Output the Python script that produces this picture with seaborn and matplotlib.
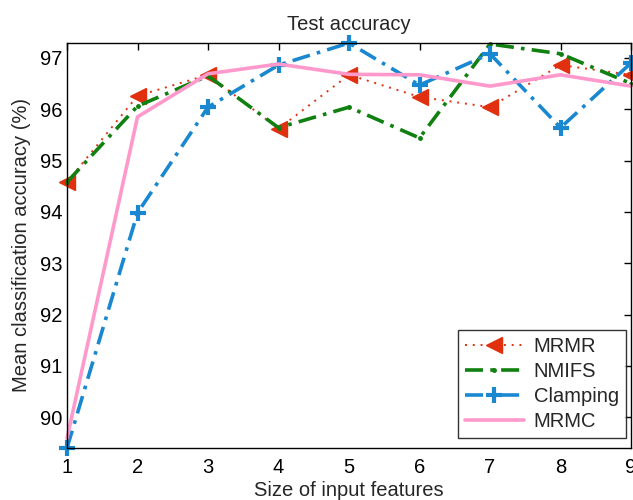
import matplotlib
matplotlib.use("Agg")
import matplotlib.pyplot as plt
import seaborn as sns
import pandas as pd

x_features = [1, 2, 3, 4, 5, 6, 7, 8, 9]
mrmr = [94.58, 96.26, 96.67, 95.62, 96.67, 96.24, 96.04, 96.86, 96.67]
nmifs = [94.58, 96.06, 96.65, 95.64, 96.04, 95.44, 97.27, 97.08, 96.50]
clamping = [89.40, 93.98, 96.04, 96.86, 97.29, 96.47, 97.08, 95.64, 96.90]
mrmc = [89.59, 95.85, 96.69, 96.88, 96.68, 96.67, 96.45, 96.67, 96.45]
series_names = ["MRMR", "NMIFS", "Clamping", "MRMC"]
x_ticks = [1, 2, 3, 4, 5, 6, 7, 8, 9]
y_ticks = [90, 91, 92, 93, 94, 95, 96, 97]

sns.set_style("white")
plt.rcParams['font.family'] = ['Liberation Sans', 'DejaVu Sans']

fig = plt.figure(figsize=(6.33, 5.0), dpi=100)
ax = fig.add_axes([67/633, 1-448/500, (631-67)/633, (448-43)/500])

styles = {
    "MRMR": dict(color="#E03010", linestyle=(0, (1, 3)), linewidth=1.4,
                 marker="<", markersize=11, markeredgewidth=1.0,
                 markeredgecolor="#E03010"),
    "NMIFS": dict(color="#108010", linestyle=(0, (5, 2, 1, 2)), linewidth=2.6,
                  marker=".", markersize=5, markeredgecolor="#108010",
                  markeredgewidth=1.0),
    "Clamping": dict(color="#1A88D0", linestyle=(0, (5, 2, 1, 2)), linewidth=2.6,
                     marker="+", markersize=12, markeredgewidth=3.0,
                     markeredgecolor="#1A88D0"),
    "MRMC": dict(color="#FF99CC", linestyle="-", linewidth=2.6),
}

data_map = {"MRMR": mrmr, "NMIFS": nmifs, "Clamping": clamping, "MRMC": mrmc}
for name in series_names:
    df = pd.DataFrame({"x": x_features, "y": data_map[name]})
    sns.lineplot(data=df, x="x", y="y", ax=ax, label=name, clip_on=False,
                 **styles[name])

ax.set_xlim(1, 9)
ax.set_ylim(89.40, 97.29)
ax.set_xticks(x_ticks)
ax.set_yticks(y_ticks)
ax.tick_params(direction="in", top=True, right=True, length=5, width=1, labelsize=14.5,
               colors="black")
ax.tick_params(axis="x", pad=7)
for s in ax.spines.values():
    s.set_visible(True)
    s.set_color("black")
    s.set_linewidth(1.0)
ax.set_title("Test accuracy", fontsize=14.5, pad=9)
ax.set_xlabel("Size of input features", fontsize=14.5, labelpad=3)
ax.set_ylabel("Mean classification accuracy (%)", fontsize=14.5, labelpad=6)

leg = ax.legend(loc="lower right", fontsize=14.5, frameon=True, fancybox=False,
                handlelength=2.9, handletextpad=0.5, borderpad=0.35, labelspacing=0.3,
                borderaxespad=0.0, bbox_to_anchor=(0.991, 0.025))
leg.get_frame().set_edgecolor("black")
leg.get_frame().set_linewidth(1.0)

fig.savefig("out.png", dpi=100)
